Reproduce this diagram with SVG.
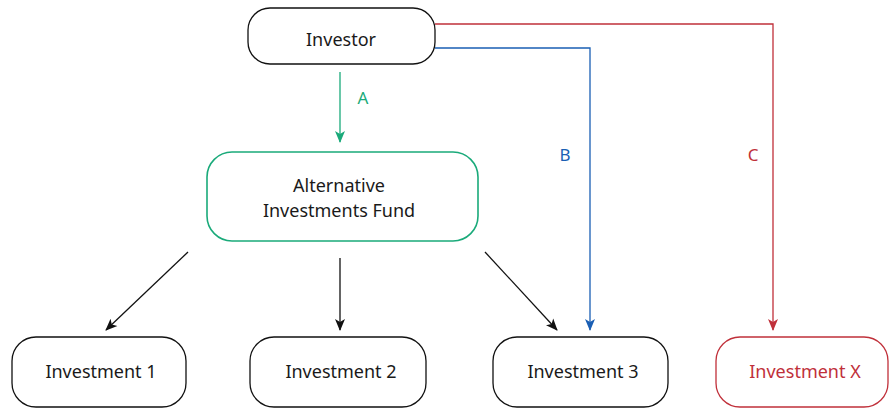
<svg xmlns="http://www.w3.org/2000/svg" width="889" height="408" viewBox="0 0 889 408">
<defs>
<style>
.box{fill:#fff;stroke:#111;stroke-width:1.3}
.lbl{font-family:"Noto Sans",sans-serif;font-size:18px;fill:#1a1a1a;text-anchor:middle}
.el{font-family:"Noto Sans",sans-serif;font-size:17px;text-anchor:middle}
.edge{fill:none;stroke-width:1.3}
</style>
<marker id="ak" markerWidth="12" markerHeight="12" viewBox="0 0 12 12" refX="11" refY="6" orient="auto" markerUnits="userSpaceOnUse"><path d="M0,1 L12,6 L0,11 L3,6 Z" fill="#111"/></marker>
<marker id="ag" markerWidth="12" markerHeight="12" viewBox="0 0 12 12" refX="11" refY="6" orient="auto" markerUnits="userSpaceOnUse"><path d="M0,1 L12,6 L0,11 L3,6 Z" fill="#1aaa7a"/></marker>
<marker id="ab" markerWidth="12" markerHeight="12" viewBox="0 0 12 12" refX="11" refY="6" orient="auto" markerUnits="userSpaceOnUse"><path d="M0,1 L12,6 L0,11 L3,6 Z" fill="#1a5fb4"/></marker>
<marker id="ar" markerWidth="12" markerHeight="12" viewBox="0 0 12 12" refX="11" refY="6" orient="auto" markerUnits="userSpaceOnUse"><path d="M0,1 L12,6 L0,11 L3,6 Z" fill="#c0303a"/></marker>
</defs>
<rect width="889" height="408" fill="#fff"/>
<g id="connectors">
<path class="edge" d="M435,24 H773 V330" stroke="#c0303a" marker-end="url(#ar)"/>
<path class="edge" d="M435,48 H590 V330" stroke="#1a5fb4" marker-end="url(#ab)"/>
<path class="edge" d="M340,72 V142" stroke="#1aaa7a" marker-end="url(#ag)"/>
<path class="edge" d="M188,252 L106,330" stroke="#111" marker-end="url(#ak)"/>
<path class="edge" d="M340,258 V330" stroke="#111" marker-end="url(#ak)"/>
<path class="edge" d="M485,252 L557,330" stroke="#111" marker-end="url(#ak)"/>
<text class="el" x="363" y="104" fill="#1aaa7a">A</text>
<text class="el" x="565" y="161" fill="#1a5fb4">B</text>
<text class="el" x="753" y="161" fill="#c0303a">C</text>
</g>
<g id="investor"><rect class="box" x="248" y="8" width="187" height="56" rx="22"/><text class="lbl" x="341" y="46">Investor</text></g>
<g id="fund"><rect class="box" x="207" y="152" width="271" height="89" rx="25" style="stroke:#1aaa7a;stroke-width:1.6"/><text class="lbl" x="339" y="192">Alternative</text><text class="lbl" x="339" y="217">Investments Fund</text></g>
<g id="inv1"><rect class="box" x="12" y="337" width="174" height="70" rx="24"/><text class="lbl" x="101" y="378">Investment 1</text></g>
<g id="inv2"><rect class="box" x="250" y="337" width="176" height="70" rx="24"/><text class="lbl" x="341" y="378">Investment 2</text></g>
<g id="inv3"><rect class="box" x="493" y="337" width="175" height="70" rx="24"/><text class="lbl" x="583" y="378">Investment 3</text></g>
<g id="invx"><rect class="box" x="716" y="337" width="172" height="70" rx="24" style="stroke:#c0303a"/><text class="lbl" x="805" y="378" style="fill:#c0303a">Investment X</text></g>
</svg>
